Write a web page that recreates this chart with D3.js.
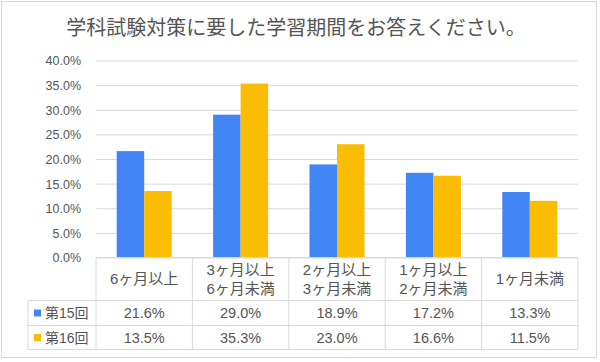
<!DOCTYPE html>
<html><head><meta charset="utf-8">
<script src="https://cdn.jsdelivr.net/npm/d3@7"></script>
<style>
html,body{margin:0;padding:0;background:#fff;}
svg{display:block;}
text{font-family:"Liberation Sans",Arial,"Noto Sans CJK JP",sans-serif;fill:#555;}
</style></head>
<body>
<svg id="c" width="600" height="362"></svg>
<script>
const title = "学科試験対策に要した学習期間をお答えください。";
const categories = [["6ヶ月以上"],["3ヶ月以上","6ヶ月未満"],["2ヶ月以上","3ヶ月未満"],["1ヶ月以上","2ヶ月未満"],["1ヶ月未満"]];
const seriesNames = ["第15回","第16回"];
const series15 = [21.6, 29.0, 18.9, 17.2, 13.3];
const series16 = [13.5, 35.3, 23.0, 16.6, 11.5];
const colors = ["#4285F4","#FBBC04"];
const yTicks = [0,5,10,15,20,25,30,35,40];

const svg = d3.select("#c");
const L = 96, R = 578, T = 60.5, B = 257.5;
const rowH = [300.5, 325.5, 349.5];
const tableLeft = 28;
const grid = "#d9d9d9";

svg.append("rect").attr("x",1.5).attr("y",1.5).attr("width",595).attr("height",356)
  .attr("fill","#fff").attr("stroke",grid);

svg.append("text").attr("x",296).attr("y",35).attr("text-anchor","middle")
  .style("font-family",'"Noto Sans CJK JP",sans-serif')
  .style("font-size","20px").text(title);

const y = d3.scaleLinear().domain([0,40]).range([B,T]);
const idx = d3.range(categories.length);
const xCell = d3.scaleBand().domain(idx).range([L,R]).padding(0);
const pIn = 1 - 55/xCell.step();
const xGroup = d3.scaleBand().domain(idx).range([L,R]).paddingInner(pIn).paddingOuter(pIn/2);
const xSub = d3.scaleBand().domain([0,1]).range([0,xGroup.bandwidth()]);

// gridlines + y labels
const yAxis = d3.axisLeft(y).tickValues(yTicks).tickSize(-(R-L)).tickFormat(d=>d3.format(".1f")(d)+"%");
const ga = svg.append("g").attr("transform",`translate(${L},0)`).call(yAxis);
ga.select(".domain").remove();
ga.selectAll(".tick line").attr("stroke",grid).attr("stroke-width",1);
ga.selectAll(".tick text").attr("x",-15).attr("dy","0.35em").style("font-size","12.5px")
  .style("font-family",'"Liberation Sans",Arial,sans-serif').attr("fill","#555");

// bars
const data = [series15, series16];
data.forEach((vals,s)=>{
  svg.append("g").selectAll("rect").data(vals).join("rect")
    .attr("x",(d,i)=>xGroup(i)+xSub(s))
    .attr("width",xSub.bandwidth())
    .attr("y",d=>y(d))
    .attr("height",d=>B-y(d))
    .attr("fill",colors[s]);
});

// table lines
const tl = svg.append("g").attr("stroke",grid).attr("stroke-width",1);
tl.append("line").attr("x1",L).attr("x2",R).attr("y1",B).attr("y2",B);
rowH.forEach(yy=>tl.append("line").attr("x1",tableLeft).attr("x2",R).attr("y1",yy).attr("y2",yy));
idx.forEach(i=>tl.append("line").attr("x1",xCell(i)).attr("x2",xCell(i)).attr("y1",B).attr("y2",rowH[2]));
tl.append("line").attr("x1",R).attr("x2",R).attr("y1",B).attr("y2",rowH[2]);
tl.append("line").attr("x1",tableLeft).attr("x2",tableLeft).attr("y1",rowH[0]).attr("y2",rowH[2]);

// header labels
categories.forEach((lines,i)=>{
  const cx = xCell(i)+xCell.bandwidth()/2;
  const cy = (B+rowH[0])/2;
  const lh = 19;
  lines.forEach((t,j)=>{
    svg.append("text").attr("x",cx).attr("y",cy+(j-(lines.length-1)/2)*lh)
      .attr("dy","0.36em").attr("text-anchor","middle").style("font-size","15px").text(t);
  });
});

// rows
data.forEach((vals,s)=>{
  const cy = (rowH[s]+rowH[s+1])/2;
  svg.append("rect").attr("x",34).attr("y",cy-3.5).attr("width",7).attr("height",7).attr("fill",colors[s]);
  svg.append("text").attr("x",45).attr("y",cy).attr("dy","0.36em").style("font-size","14px").text(seriesNames[s]);
  vals.forEach((v,i)=>{
    svg.append("text").attr("x",xCell(i)+xCell.bandwidth()/2).attr("y",cy).attr("dy","0.36em")
      .attr("text-anchor","middle").style("font-size","14.5px").text(d3.format(".1f")(v)+"%");
  });
});
</script>
</body></html>
